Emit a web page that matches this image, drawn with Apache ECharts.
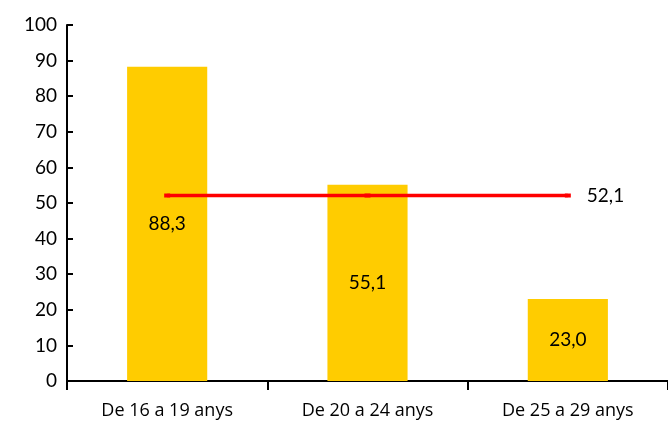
<!DOCTYPE html>
<html>
<head>
<meta charset="utf-8">
<script src="https://cdn.jsdelivr.net/npm/echarts@6/dist/echarts.min.js"></script>
<style>
  html, body { margin: 0; padding: 0; background: #fff; }
  #chart { width: 668px; height: 428px; }
</style>
</head>
<body>
<div id="chart"></div>
<script>
// dades
var categories = ['De 16 a 19 anys', 'De 20 a 24 anys', 'De 25 a 29 anys'];
var barValues = [88.3, 55.1, 23.0];
var avgValues = [52.1, 52.1, 52.1];
var yTicks = { min: 0, max: 100, interval: 10 };

var font = 'Lato';
var chart = echarts.init(document.getElementById('chart'));

function fmt(v) { return v.toFixed(1).replace('.', ','); }

var option = {
  animation: false,
  grid: { left: 67, right: 0, top: 25, bottom: 47 },
  xAxis: {
    type: 'category',
    data: categories,
    axisLine: { lineStyle: { color: '#000', width: 2 } },
    axisTick: { show: true, length: 9, lineStyle: { color: '#000', width: 2 } },
    axisLabel: { color: '#000', fontFamily: 'Open Sans', fontSize: 18, margin: 21 }
  },
  yAxis: {
    type: 'value',
    min: yTicks.min,
    max: yTicks.max,
    interval: yTicks.interval,
    splitLine: { show: false },
    axisLine: { show: true, lineStyle: { color: '#000', width: 2 } },
    axisTick: { show: true, inside: true, length: 6, lineStyle: { color: '#000', width: 2 } },
    axisLabel: { color: '#000', fontFamily: font, fontSize: 19, margin: 10 }
  },
  series: [
    {
      type: 'bar',
      data: barValues,
      barWidth: '40%',
      itemStyle: { color: '#FFCC00' },
      label: {
        show: true,
        position: 'inside',
        color: '#000',
        fontFamily: font,
        fontSize: 19,
        formatter: function (p) { return fmt(p.value); }
      }
    },
    {
      type: 'line',
      data: avgValues,
      symbol: 'rect',
      symbolSize: [6, 4],
      lineStyle: { color: '#FF0000', width: 3.5 },
      itemStyle: { color: '#FF0000' },
      label: {
        show: true,
        position: 'right',
        distance: 16,
        color: '#000',
        fontFamily: font,
        fontSize: 19,
        formatter: function (p) { return p.dataIndex === avgValues.length - 1 ? fmt(p.value) : ''; }
      }
    }
  ]
};

chart.setOption(option);
</script>
</body>
</html>
